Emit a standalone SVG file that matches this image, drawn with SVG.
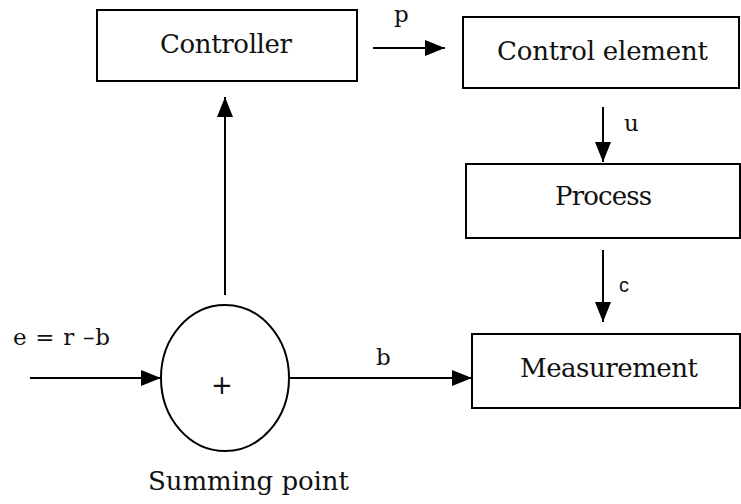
<svg xmlns="http://www.w3.org/2000/svg" width="741" height="504" viewBox="0 0 741 504">
<style>
.box{fill:#fff;stroke:#000;stroke-width:2}
.t{font-family:"DejaVu Serif","Liberation Serif",serif;font-size:26px;fill:#111}
.s{font-family:"DejaVu Serif","Liberation Serif",serif;font-size:23px;fill:#111}
.c{stroke:#000;stroke-width:2;fill:none}
</style>
<defs>
<marker id="ah" markerUnits="userSpaceOnUse" markerWidth="20" markerHeight="16" refX="20" refY="8" orient="auto">
<path d="M0,0 L20,8 L0,16 Z" fill="#000"/>
</marker>
</defs>
<rect width="741" height="504" fill="#fff"/>
<g id="controller">
<rect class="box" x="97" y="10" width="260" height="71"/>
<text class="t" x="160" y="53" textLength="132" lengthAdjust="spacing">Controller</text>
</g>
<g id="control-element">
<rect class="box" x="463" y="17" width="276" height="71"/>
<text class="t" x="497" y="60" textLength="211" lengthAdjust="spacing">Control element</text>
</g>
<g id="process">
<rect class="box" x="466" y="164" width="274" height="74"/>
<text class="t" x="555" y="205" textLength="97" lengthAdjust="spacing">Process</text>
</g>
<g id="measurement">
<rect class="box" x="472" y="334" width="268" height="74"/>
<text class="t" x="520" y="377" textLength="178" lengthAdjust="spacing">Measurement</text>
</g>
<g id="summing-point">
<ellipse class="box" cx="225" cy="378" rx="64" ry="73"/>
<text x="222" y="394" text-anchor="middle" font-family="DejaVu Sans,sans-serif" font-size="26" fill="#111">+</text>
<text class="t" x="148" y="490" textLength="201" lengthAdjust="spacing">Summing point</text>
</g>
<g id="connectors">
<line class="c" x1="373" y1="48" x2="445" y2="48" marker-end="url(#ah)"/>
<text class="s" x="394" y="22">p</text>
<line class="c" x1="603" y1="107" x2="603" y2="162" marker-end="url(#ah)"/>
<text class="s" x="624" y="131">u</text>
<line class="c" x1="603" y1="250" x2="603" y2="322" marker-end="url(#ah)"/>
<text x="619" y="292" font-family="Liberation Sans,Arial,sans-serif" font-size="20" fill="#111">c</text>
<line class="c" x1="289" y1="378" x2="472" y2="378" marker-end="url(#ah)"/>
<text class="s" x="376" y="365">b</text>
<line class="c" x1="30" y1="378" x2="161" y2="378" marker-end="url(#ah)"/>
<text class="s" x="13" y="345" textLength="97" lengthAdjust="spacing">e = r –b</text>
<line class="c" x1="225" y1="295" x2="225" y2="97" marker-end="url(#ah)"/>
</g>
</svg>
